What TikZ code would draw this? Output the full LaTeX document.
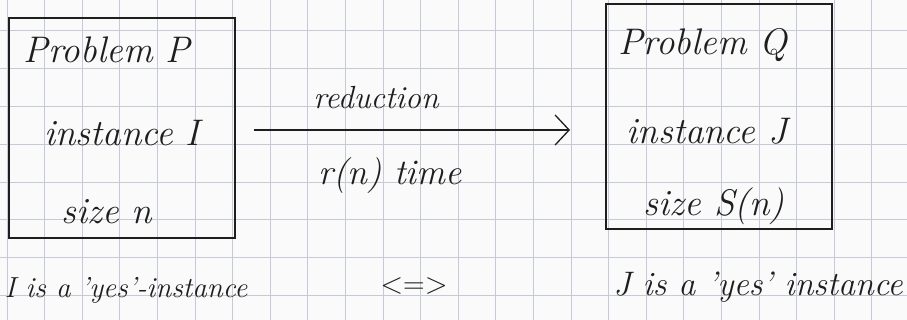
\documentclass[tikz,border=0pt]{standalone}
\usetikzlibrary{arrows.meta}
\definecolor{paper}{HTML}{FAFAFA}
\definecolor{gridc}{HTML}{C6C9D6}
\definecolor{ink}{HTML}{1E1E1E}
\tikzset{
  gridline/.style={draw=gridc, line width=0.9pt},
  probbox/.style={draw=ink, line width=1.4pt, rectangle, inner sep=0pt},
  hand/.style={text=ink, inner sep=0pt, font=\fontsize{37}{37}\selectfont\itshape},
  lab/.style={text=ink, inner sep=0pt, font=\fontsize{32}{32}\selectfont\itshape},
  foot/.style={text=ink, inner sep=0pt, font=\fontsize{29}{29}\selectfont\itshape},
  arr/.style={draw=ink, line width=1.3pt, -{Straight Barb[length=14pt,width=30pt,line width=1.3pt]}}
}
\begin{document}
\begin{tikzpicture}[x=1pt,y=-1pt]
\useasboundingbox (0,0) rectangle (907,320);
\fill[paper] (0,0) rectangle (907,320);
% grid paper
\foreach \k in {0,...,23} \draw[gridline] ({7+37.6*\k},0) -- ({7+37.6*\k},320);
\foreach \k in {0,...,8} \draw[gridline] (0,{-7+37.8*\k}) -- (907,{-7+37.8*\k});
% boxes
\node[probbox, minimum width=226pt, minimum height=220pt] (P) at (122,128) {};
\node[probbox, minimum width=226pt, minimum height=225pt] (Q) at (719,116.5) {};
% texts in boxes
\node[hand] (p1) at (107,50) {Problem P};
\node[hand] (p2) at (122,133) {instance I};
\node[hand] (p3) at (107,212) {size n};
\node[hand] (q1) at (703,45) {Problem Q};
\node[hand] (q2) at (707,131) {instance J};
\node[hand] (q3) at (714,206) {size S(n)};
% reduction arrow
\coordinate (a0) at ([xshift=18pt,yshift=-2pt]P.east);
\coordinate (a1) at (570,130);
\draw[arr] (a0) -- (a1);
\node[lab] (red) at (376,98) {reduction};
\node[lab, font=\fontsize{36}{36}\selectfont\itshape] (tim) at (390,176) {r(n) time};
% bottom statements
\node[foot] (yl) at (126,290) {I is a 'yes'-instance};
\node[lab, font=\fontsize{30}{30}\selectfont\upshape] (eq) at (414,286) {<=>};
\node[foot, font=\fontsize{34}{34}\selectfont\itshape] (yr) at (758,287) {J is a 'yes' instance};
\end{tikzpicture}
\end{document}
